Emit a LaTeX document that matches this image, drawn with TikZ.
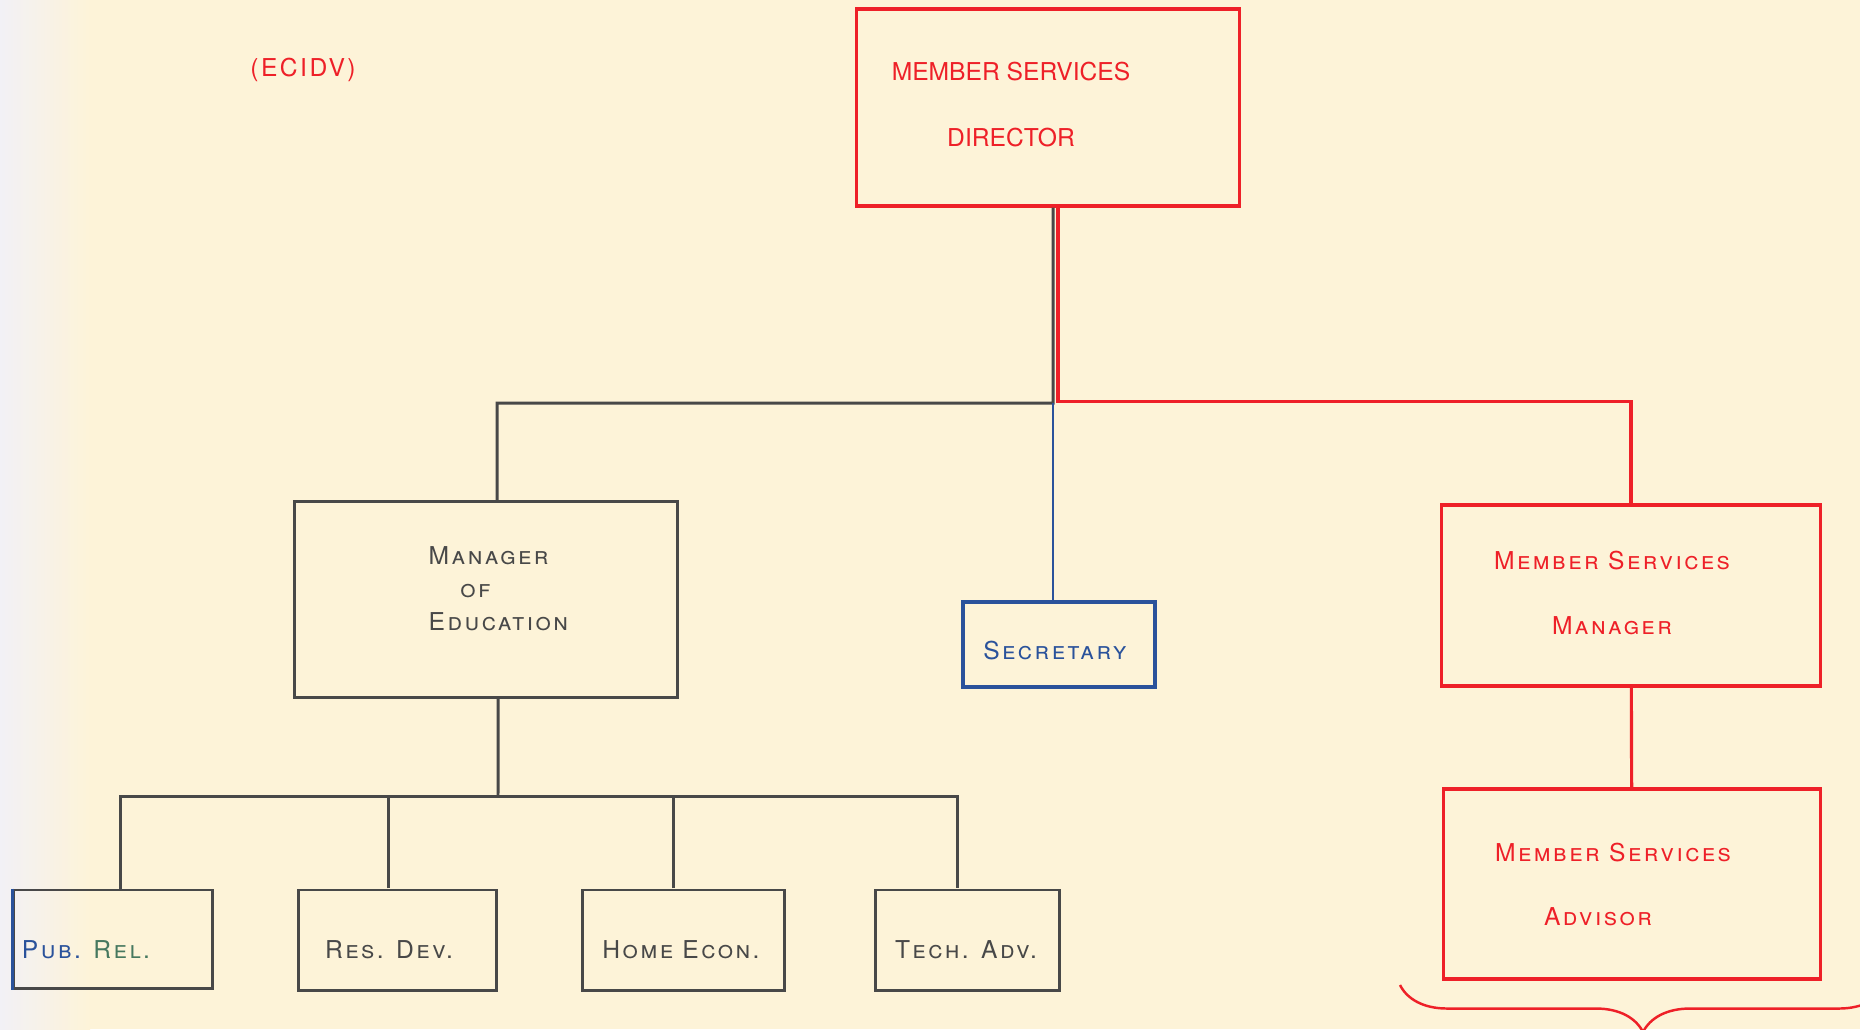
\documentclass[tikz,border=0pt]{standalone}
\usepackage{fontspec}
\usetikzlibrary{positioning, calc, decorations.pathreplacing}
\newfontfamily\lettering{TeX Gyre Heros}
\newfontfamily\spaced[LetterSpace=10]{TeX Gyre Heros}
\definecolor{paper}{RGB}{253,243,216}
\definecolor{edgetint}{RGB}{242,241,246}
\definecolor{inkred}{RGB}{238,32,40}
\definecolor{inkgray}{RGB}{72,72,72}
\definecolor{inkblue}{RGB}{42,82,155}
\definecolor{inkgreen}{RGB}{70,120,95}

\begin{document}
\begin{tikzpicture}[
    x=0.01cm, y=-0.01cm,
    gbox/.style={draw=inkgray, line width=0.85pt, inner sep=0pt},
    rbox/.style={draw=inkred, line width=0.9pt, inner sep=0pt},
    bbox/.style={draw=inkblue, line width=0.9pt, inner sep=0pt},
    gline/.style={draw=inkgray, line width=0.85pt},
    rline/.style={draw=inkred, line width=0.9pt},
    bline/.style={draw=inkblue, line width=0.75pt},
    txt/.style={inner sep=0pt, align=center, font=\spaced\fontsize{7}{9}\selectfont\scshape},
]

% paper
\useasboundingbox (0,0) rectangle (1860,1029);
\clip (0,0) rectangle (1860,1029);
\fill[paper] (0,0) rectangle (1860,1029);
\shade[left color=edgetint, right color=paper] (0,0) rectangle (90,1029);

\node[txt, text=inkred, font=\spaced\fontsize{7}{9}\selectfont] (code) at (303,70) {(ECIDV)};

% top
\node[rbox, minimum width=3.82cm, minimum height=1.97cm] (director) at (1048,107.5) {};
\node[txt, text=inkred, font=\lettering\fontsize{7}{18.5}\selectfont] (directortext) at (1011,104.5)
    {MEMBER SERVICES\\DIRECTOR};

% second row
\node[gbox, minimum width=3.82cm, minimum height=1.95cm] (moe) at (486,599.5) {};
\node[txt, text=inkgray, align=left, anchor=west, font=\spaced\fontsize{7}{9.4}\selectfont\scshape] (moetext) at (428,589)
    {Manager\\\hspace*{9pt}of\\Education};

\node[bbox, minimum width=1.92cm, minimum height=0.85cm] (secretary) at (1059,644.5) {};
\node[txt, text=inkblue] (secretarytext) at (1055,651) {Secretary};

\node[rbox, minimum width=3.78cm, minimum height=1.81cm] (msmanager) at (1631,595.5) {};
\node[txt, text=inkred, font=\spaced\fontsize{7}{18.5}\selectfont\scshape] (msmanagertext) at (1612,592.5)
    {Member Services\\Manager};

\node[rbox, minimum width=3.76cm, minimum height=1.90cm] (advisor) at (1632,884) {};
\node[txt, text=inkred, font=\spaced\fontsize{7}{18.2}\selectfont\scshape] (advisortext) at (1613,884)
    {Member Services\\Advisor\hspace*{8.5pt}};

% bottom row
\node[gbox, minimum width=1.98cm, minimum height=0.98cm] (pubrel) at (113,939) {};
\node[gbox, minimum width=1.97cm, minimum height=1.00cm] (resdev) at (397.5,940) {};
\node[gbox, minimum width=2.01cm, minimum height=1.00cm] (homeecon) at (683.5,940) {};
\node[gbox, minimum width=1.83cm, minimum height=1.00cm] (techadv) at (967.5,940) {};
\draw[bline, line width=0.85pt] (pubrel.north west) -- (pubrel.south west);

\node[txt] (pubreltext) at (86,950) {\textcolor{inkblue}{Pub.} \textcolor{inkgreen}{Rel.}};
\node[txt, text=inkgray] (resdevtext) at (389,950) {Res. Dev.};
\node[txt, text=inkgray] (homeecontext) at (681,950) {Home Econ.};
\node[txt, text=inkgray] (techadvtext) at (966,950) {Tech. Adv.};

% connectors
\coordinate (split) at (1053,403);
\draw[gline] ([xshift=0.05cm]director.south) -- (split) -| ([xshift=0.11cm]moe.north);
\draw[bline] (split) -- (split |- secretary.north);
\draw[rline] ([xshift=0.10cm]director.south) -- ++(0,194) -| (msmanager.north);
\draw[rline] (msmanager) -- (advisor);

\coordinate (bus) at (498,796);
\draw[gline] ([xshift=0.12cm]moe.south) -- (bus);
\draw[gline] ([xshift=0.07cm]pubrel.north) |- ([xshift=-0.10cm]techadv.north |- bus) -- ([xshift=-0.10cm]techadv.north);
\draw[gline] ([xshift=-0.09cm]resdev.north) -- ([xshift=-0.09cm]resdev.north |- bus);
\draw[gline] ([xshift=-0.10cm]homeecon.north) -- ([xshift=-0.10cm]homeecon.north |- bus);

% brace
\draw[rline, line width=0.7pt, decorate, decoration={brace, mirror, amplitude=0.47cm}]
    (1400,985) -- (1886,985);

\end{tikzpicture}
\end{document}
